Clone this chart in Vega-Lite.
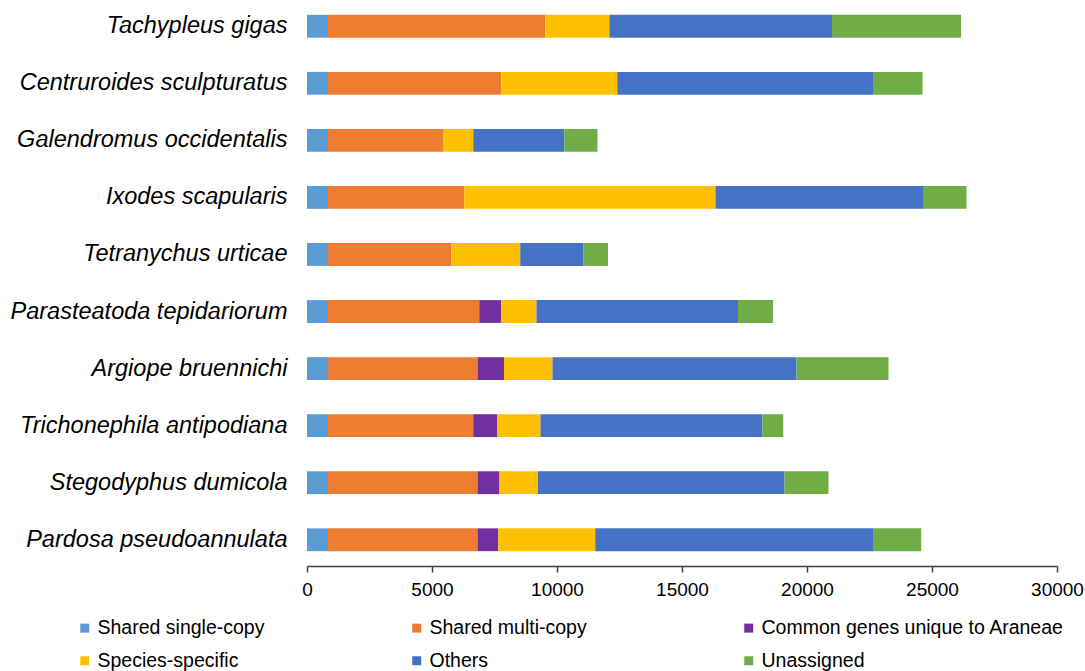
{
  "$schema": "https://vega.github.io/schema/vega-lite/v6.json",
  "autosize": "none",
  "width": 750,
  "height": 566,
  "padding": {"left": 307, "top": 0, "right": 28, "bottom": 105},
  "background": "white",
  "config": {
    "view": {"stroke": null},
    "font": "Liberation Sans"
  },
  "data": {
    "values": [
      {"species": "Tachypleus gigas", "category": "Shared single-copy", "k": 1, "genes": 840},
      {"species": "Tachypleus gigas", "category": "Shared multi-copy", "k": 2, "genes": 8690},
      {"species": "Tachypleus gigas", "category": "Species-specific", "k": 4, "genes": 2570},
      {"species": "Tachypleus gigas", "category": "Others", "k": 5, "genes": 8900},
      {"species": "Tachypleus gigas", "category": "Unassigned", "k": 6, "genes": 5160},

      {"species": "Centruroides sculpturatus", "category": "Shared single-copy", "k": 1, "genes": 840},
      {"species": "Centruroides sculpturatus", "category": "Shared multi-copy", "k": 2, "genes": 6930},
      {"species": "Centruroides sculpturatus", "category": "Species-specific", "k": 4, "genes": 4640},
      {"species": "Centruroides sculpturatus", "category": "Others", "k": 5, "genes": 10230},
      {"species": "Centruroides sculpturatus", "category": "Unassigned", "k": 6, "genes": 1980},

      {"species": "Galendromus occidentalis", "category": "Shared single-copy", "k": 1, "genes": 840},
      {"species": "Galendromus occidentalis", "category": "Shared multi-copy", "k": 2, "genes": 4620},
      {"species": "Galendromus occidentalis", "category": "Species-specific", "k": 4, "genes": 1190},
      {"species": "Galendromus occidentalis", "category": "Others", "k": 5, "genes": 3640},
      {"species": "Galendromus occidentalis", "category": "Unassigned", "k": 6, "genes": 1330},

      {"species": "Ixodes scapularis", "category": "Shared single-copy", "k": 1, "genes": 840},
      {"species": "Ixodes scapularis", "category": "Shared multi-copy", "k": 2, "genes": 5450},
      {"species": "Ixodes scapularis", "category": "Species-specific", "k": 4, "genes": 10050},
      {"species": "Ixodes scapularis", "category": "Others", "k": 5, "genes": 8300},
      {"species": "Ixodes scapularis", "category": "Unassigned", "k": 6, "genes": 1740},

      {"species": "Tetranychus urticae", "category": "Shared single-copy", "k": 1, "genes": 840},
      {"species": "Tetranychus urticae", "category": "Shared multi-copy", "k": 2, "genes": 4930},
      {"species": "Tetranychus urticae", "category": "Species-specific", "k": 4, "genes": 2760},
      {"species": "Tetranychus urticae", "category": "Others", "k": 5, "genes": 2520},
      {"species": "Tetranychus urticae", "category": "Unassigned", "k": 6, "genes": 990},

      {"species": "Parasteatoda tepidariorum", "category": "Shared single-copy", "k": 1, "genes": 840},
      {"species": "Parasteatoda tepidariorum", "category": "Shared multi-copy", "k": 2, "genes": 6050},
      {"species": "Parasteatoda tepidariorum", "category": "Common genes unique to Araneae", "k": 3, "genes": 880},
      {"species": "Parasteatoda tepidariorum", "category": "Species-specific", "k": 4, "genes": 1410},
      {"species": "Parasteatoda tepidariorum", "category": "Others", "k": 5, "genes": 8060},
      {"species": "Parasteatoda tepidariorum", "category": "Unassigned", "k": 6, "genes": 1400},

      {"species": "Argiope bruennichi", "category": "Shared single-copy", "k": 1, "genes": 840},
      {"species": "Argiope bruennichi", "category": "Shared multi-copy", "k": 2, "genes": 5980},
      {"species": "Argiope bruennichi", "category": "Common genes unique to Araneae", "k": 3, "genes": 1060},
      {"species": "Argiope bruennichi", "category": "Species-specific", "k": 4, "genes": 1940},
      {"species": "Argiope bruennichi", "category": "Others", "k": 5, "genes": 9760},
      {"species": "Argiope bruennichi", "category": "Unassigned", "k": 6, "genes": 3680},

      {"species": "Trichonephila antipodiana", "category": "Shared single-copy", "k": 1, "genes": 840},
      {"species": "Trichonephila antipodiana", "category": "Shared multi-copy", "k": 2, "genes": 5810},
      {"species": "Trichonephila antipodiana", "category": "Common genes unique to Araneae", "k": 3, "genes": 950},
      {"species": "Trichonephila antipodiana", "category": "Species-specific", "k": 4, "genes": 1740},
      {"species": "Trichonephila antipodiana", "category": "Others", "k": 5, "genes": 8880},
      {"species": "Trichonephila antipodiana", "category": "Unassigned", "k": 6, "genes": 830},

      {"species": "Stegodyphus dumicola", "category": "Shared single-copy", "k": 1, "genes": 840},
      {"species": "Stegodyphus dumicola", "category": "Shared multi-copy", "k": 2, "genes": 5980},
      {"species": "Stegodyphus dumicola", "category": "Common genes unique to Araneae", "k": 3, "genes": 880},
      {"species": "Stegodyphus dumicola", "category": "Species-specific", "k": 4, "genes": 1540},
      {"species": "Stegodyphus dumicola", "category": "Others", "k": 5, "genes": 9860},
      {"species": "Stegodyphus dumicola", "category": "Unassigned", "k": 6, "genes": 1760},

      {"species": "Pardosa pseudoannulata", "category": "Shared single-copy", "k": 1, "genes": 840},
      {"species": "Pardosa pseudoannulata", "category": "Shared multi-copy", "k": 2, "genes": 5980},
      {"species": "Pardosa pseudoannulata", "category": "Common genes unique to Araneae", "k": 3, "genes": 830},
      {"species": "Pardosa pseudoannulata", "category": "Species-specific", "k": 4, "genes": 3880},
      {"species": "Pardosa pseudoannulata", "category": "Others", "k": 5, "genes": 11110},
      {"species": "Pardosa pseudoannulata", "category": "Unassigned", "k": 6, "genes": 1930}
    ]
  },
  "mark": {"type": "bar"},
  "encoding": {
    "y": {
      "field": "species",
      "type": "nominal",
      "sort": null,
      "scale": {"paddingInner": 0.6, "paddingOuter": 0.26},
      "axis": {
        "title": null,
        "domain": false,
        "ticks": false,
        "labelPadding": 20,
        "labelFontSize": 23.5,
        "labelFontStyle": "italic",
        "labelColor": "#000000",
        "labelLimit": 400
      }
    },
    "x": {
      "field": "genes",
      "type": "quantitative",
      "aggregate": "sum",
      "stack": "zero",
      "scale": {"domain": [0, 30000], "nice": false},
      "axis": {
        "title": null,
        "grid": false,
        "values": [0, 5000, 10000, 15000, 20000, 25000, 30000],
        "format": "d",
        "labelFlush": false,
        "labelOverlap": false,
        "domainColor": "#404040",
        "domainWidth": 1.5,
        "tickColor": "#404040",
        "tickWidth": 1.5,
        "tickSize": 6,
        "labelPadding": 8,
        "labelFontSize": 19,
        "labelColor": "#000000"
      }
    },
    "order": {"field": "k", "type": "quantitative"},
    "color": {
      "field": "category",
      "type": "nominal",
      "scale": {
        "domain": ["Shared single-copy", "Shared multi-copy", "Common genes unique to Araneae", "Species-specific", "Others", "Unassigned"],
        "range": ["#5B9BD5", "#ED7D31", "#7030A0", "#FFC000", "#4472C4", "#70AD47"]
      },
      "legend": {
        "title": null,
        "orient": "none",
        "legendX": -232,
        "legendY": 618,
        "direction": "horizontal",
        "columns": 3,
        "gridAlign": "all",
        "columnPadding": 7,
        "rowPadding": 12,
        "symbolType": "square",
        "symbolSize": 81,
        "symbolStrokeWidth": 0,
        "labelOffset": 3,
        "labelFontSize": 19.5,
        "labelColor": "#000000",
        "labelLimit": 400
      }
    }
  }
}
